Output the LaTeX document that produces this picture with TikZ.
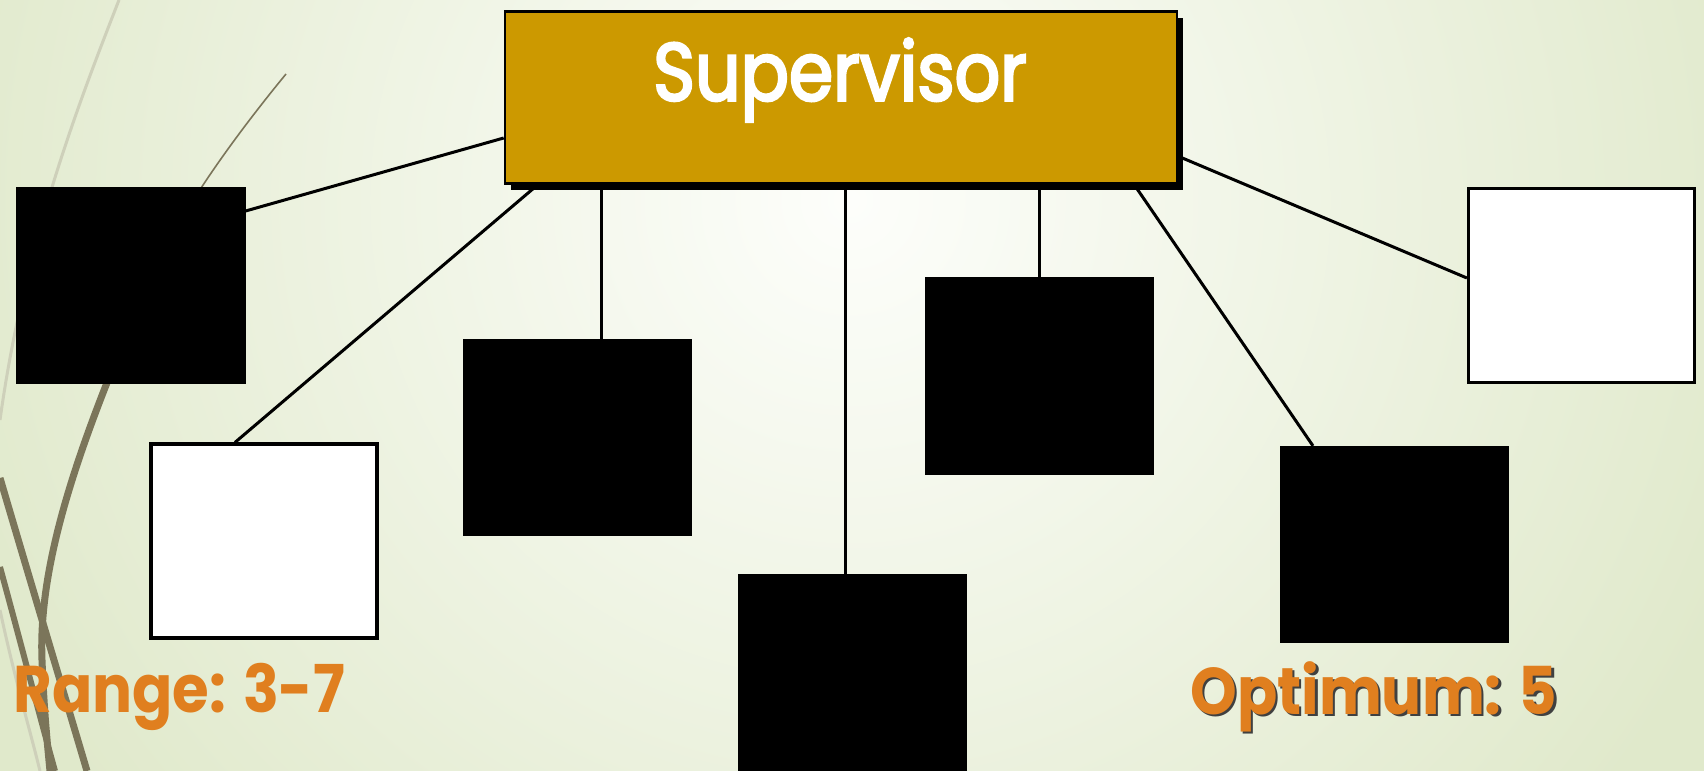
\documentclass[tikz,border=0pt]{standalone}
\usepackage{fontspec}
\newfontfamily\gothic[FakeStretch=0.9]{Poppins}
\newfontfamily\gothicmedio[FakeStretch=0.87,FakeBold=3]{Poppins}
\usetikzlibrary{shadows}
\definecolor{ouro}{RGB}{204,153,0}
\definecolor{laranja}{RGB}{224,127,31}
\definecolor{fundo}{RGB}{224,233,203}
\definecolor{fundoclaro}{RGB}{253,254,251}
\definecolor{haste}{RGB}{123,117,90}
\definecolor{hastepalida}{RGB}{206,208,186}

\begin{document}
\begin{tikzpicture}[x=0.5pt,y=-0.5pt,
  caixa/.style={draw=black,line width=1.6pt,minimum width=113pt,minimum height=97pt,inner sep=0pt},
  cheia/.style={caixa,fill=black},
  vazia/.style={caixa,fill=white},
  chefe/.style={draw=black,fill=ouro,line width=1.3pt,minimum width=336pt,minimum height=86pt,
    drop shadow={shadow xshift=3pt,shadow yshift=-3pt,fill=black,opacity=1}},
  rotulo/.style={anchor=base west,inner sep=0pt,text=laranja,font=\gothic\bfseries\fontsize{33}{40}\selectfont},
  ligacao/.style={line width=1.5pt}]
	% fundo
	\useasboundingbox (0,0) rectangle (1704,771);
	\clip (0,0) rectangle (1704,771);
	\fill[fundo] (0,0) rectangle (1704,771);
	\shade[inner color=fundoclaro,outer color=fundo] (850,200) circle (480pt);
	% hastes
	\draw[hastepalida,line width=1.5pt] (119,0) .. controls (80,100) and (25,240) .. (0,420);
	\draw[hastepalida,line width=1.5pt] (0,610) .. controls (15,680) and (30,730) .. (40,771);
	\draw[haste,line width=0.8pt] (286,74) .. controls (240,130) and (180,210) .. (150,280);
	\draw[haste,line width=3.5pt] (150,280) .. controls (80,440) and (38,560) .. (42,660) .. controls (44,710) and (47,740) .. (50,771);
	\draw[haste,line width=3.5pt] (0,478) .. controls (30,580) and (60,680) .. (87,771);
	\draw[haste,line width=3pt] (0,567) .. controls (20,640) and (38,710) .. (55,771);
	% supervisor
	\node[chefe] (sup) at (841,97.5) {};
	\node[text=white,font=\gothicmedio\fontsize{41}{48}\selectfont] (suptxt) at (840,80) {Supervisor};
	% caixas
	\node[cheia] (b1) at (131,285.5) {};
	\node[vazia] (b2) at (264,541) {};
	\node[cheia] (b3) at (577.5,437.5) {};
	\node[cheia] (b4) at (852.5,673) {};
	\node[cheia] (b5) at (1039.5,376) {};
	\node[cheia] (b6) at (1394.5,544.5) {};
	\node[vazia] (b7) at (1581.5,285.5) {};
	% ligacoes
	\draw[ligacao] ([yshift=37.25pt]b1.east) -- ([yshift=-20.25pt]sup.west);
	\draw[ligacao] ([xshift=-14.5pt]b2.north) -- ([xshift=17pt]sup.south west);
	\draw[ligacao] ([xshift=11.75pt]b3.north) -- ([xshift=11.75pt]b3.north |- sup.south);
	\draw[ligacao] ([xshift=-3.75pt]b4.north) -- ([xshift=-3.75pt]b4.north |- sup.south);
	\draw[ligacao] (b5.north) -- (b5.north |- sup.south);
	\draw[ligacao] ([xshift=-40.75pt]b6.north) -- ([xshift=-22pt]sup.south east);
	\draw[ligacao] ([yshift=3.75pt]b7.west) -- ([yshift=-29.4pt]sup.east);
	% rotulos de baixo
	\node[rotulo] (faixa) at (13,712) {Range: 3-7};
	\node[rotulo,text=black!75] (otimosombra) at (1192.5,716.5) {Optimum: 5};
	\node[rotulo] (otimo) at (1190,714) {Optimum: 5};
\end{tikzpicture}
\end{document}
